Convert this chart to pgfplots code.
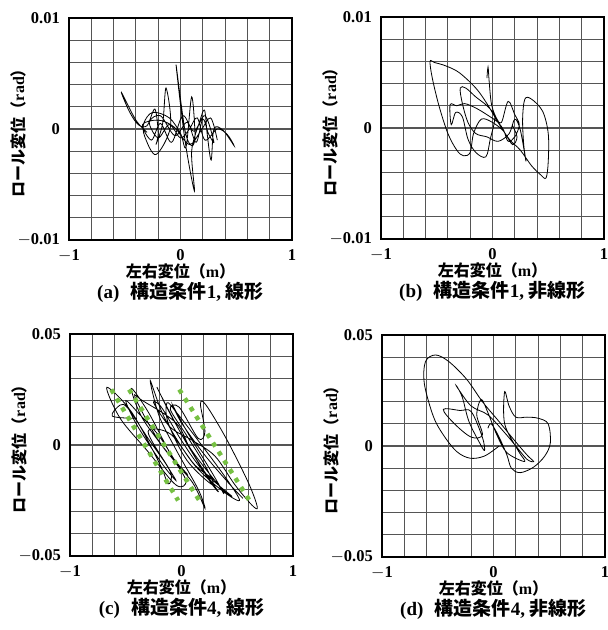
\documentclass[border=0pt]{standalone}
\usepackage{fontspec}
\usepackage{pgfplots}
\pgfplotsset{compat=1.18}
\newfontfamily\jp{Noto Sans CJK JP}
\newfontfamily\numf{Liberation Serif}
\definecolor{gdot}{RGB}{118,192,67}
\definecolor{gridc}{RGB}{85,85,85}
\newcommand{\labsize}{\fontsize{16bp}{18bp}\selectfont}
\newcommand{\capsize}{\fontsize{19bp}{22bp}\selectfont}
\newcommand{\mn}{\(-\)}
\pgfplotsset{
  myax/.style={
    scale only axis, width=223bp, height=222bp, anchor=south west,
    xmin=-1, xmax=1,
    xtick={-1,0,1}, xticklabels={\mn1,0,1},
    minor xtick={-0.8,-0.6,-0.4,-0.2,0.2,0.4,0.6,0.8},
    grid=both,
    major grid style={gridc, line width=1.1bp},
    minor grid style={gridc, line width=1.1bp},
    major tick length=0pt, minor tick length=0pt,
    axis line style={black, line width=1.4bp},
    tick label style={font=\numf\bfseries\fontsize{16.5bp}{16.5bp}\selectfont, inner sep=0pt},
    xticklabel style={yshift=-9bp},
    yticklabel style={xshift=-9bp},
    scaled ticks=false,
    xlabel={{\jp\bfseries 左右変位（}{\numf\bfseries m}{\jp\bfseries ）}},
    ylabel={{\jp\bfseries ロール変位（}{\numf\bfseries rad}{\jp\bfseries ）}},
    xlabel style={at={(axis description cs:0.5,-0.1396)}, anchor=center, inner sep=0pt, font=\labsize},
    ylabel style={at={(axis description cs:-0.229,0.5)}, anchor=center, inner sep=0pt, font=\labsize},
    title style={at={(axis description cs:0.5,-0.2613)}, anchor=center, inner sep=0pt, font=\capsize},
  },
  ysmall/.style={ymin=-0.01, ymax=0.01, ytick={-0.01,0,0.01}, yticklabels={\mn0.01,0,0.01},
    minor ytick={-0.008,-0.006,-0.004,-0.002,0.002,0.004,0.006,0.008}},
  ybig/.style={ymin=-0.05, ymax=0.05, ytick={-0.05,0,0.05}, yticklabels={\mn0.05,0,0.05},
    minor ytick={-0.04,-0.03,-0.02,-0.01,0.01,0.02,0.03,0.04}},
  trace/.style={black, line width=0.8bp, smooth, tension=0.55, mark=none},
  gline/.style={gdot, line width=4.5bp, dash pattern=on 4.5bp off 6bp, mark=none},
}
\begin{document}
\begin{tikzpicture}
\useasboundingbox (0,0) rectangle (608bp,-630bp);
% (a)
\begin{axis}[myax, ysmall, at={(69bp,-240bp)},
  title={{\numf\bfseries (a)}\hspace{0.6em}{\jp\bfseries 構造条件}{\numf\bfseries 1, }{\jp\bfseries 線形}}]
\addplot[trace] coordinates {
(-0.30,-0.0003) (-0.40,0.0008) (-0.53,0.0033) (-0.46,0.0016) (-0.38,0.0004)
(-0.30,0.0003) (-0.23,0.0018) (-0.20,-0.0004) (-0.22,-0.0014) (-0.16,0.0005)
(-0.13,0.0037) (-0.09,0.0002) (-0.22,-0.0023) (-0.32,-0.0007) (-0.33,0.0005)
(-0.25,0.0015) (-0.10,0.0010) (0.00,-0.0004) (0.05,-0.0016) (0.10,0.0029)
(0.13,-0.0006) (0.10,-0.0015) (0.04,-0.0001) (-0.04,0.0058) (0.04,-0.0010)
(0.125,-0.0056) (0.10,-0.0020) (0.17,0.0006) (0.215,0.0017) (0.24,-0.0005)
(0.275,-0.0028) (0.30,0.0000) (0.38,-0.0001) (0.48,-0.0015) (0.42,-0.0005)
(0.33,0.0000) (0.22,-0.0010) (0.15,0.0010) (0.08,0.0000) (0.00,-0.0008)
(-0.10,0.0004) (-0.20,-0.0008) (-0.28,0.0006) (-0.18,0.0012) (-0.05,-0.0006)
(0.06,0.0006) (0.14,-0.0012) (0.20,0.0009) (0.25,-0.0004) (0.30,-0.0012)
(0.22,0.0012) (0.12,-0.0002) (0.02,0.0012) (-0.08,-0.0012) (-0.18,0.0005)
(-0.26,-0.0010) (-0.34,0.0004) (-0.20,0.0008) (-0.06,0.0002) (0.08,-0.0014)
(0.18,-0.0002) (0.27,0.0010) (0.33,-0.0010)
};
\end{axis}
% (b)
\begin{axis}[myax, ysmall, at={(381bp,-239bp)},
  title={{\numf\bfseries (b)}\hspace{0.6em}{\jp\bfseries 構造条件}{\numf\bfseries 1, }{\jp\bfseries 非線形}}]
\addplot[trace] coordinates {
(-0.05,0.0045) (-0.04,0.0055) (-0.03,0.0042) (-0.01,0.0022) (0.03,0.0010)
(0.08,0.0005) (0.14,0.0024) (0.20,0.0012) (0.24,0.0003) (0.20,-0.0008)
(0.14,-0.0012) (0.10,-0.0002) (0.05,0.0005) (-0.05,0.0012) (-0.15,0.0018)
(-0.25,0.0022) (-0.32,0.0020) (-0.38,0.0021) (-0.37,0.0003) (-0.33,0.0014)
(-0.27,0.0010) (-0.22,-0.0010) (-0.15,-0.0022) (-0.06,-0.0026) (-0.02,-0.0010)
(0.02,0.0010) (-0.05,0.0020) (-0.15,0.0028) (-0.24,0.0036) (-0.29,0.0036)
(-0.27,0.0022) (-0.22,0.0005) (-0.15,-0.0005) (-0.05,-0.0008) (0.05,-0.0012)
(0.15,-0.0005) (0.20,0.0008) (0.25,-0.0002) (0.30,-0.0030) (0.28,-0.0015)
(0.27,0.0008) (0.29,0.0026) (0.35,0.0026) (0.45,0.0015) (0.50,-0.0005)
(0.50,-0.0030) (0.48,-0.0045) (0.43,-0.0042) (0.35,-0.0034) (0.25,-0.0020)
(0.15,-0.0010) (0.05,0.0005) (-0.05,0.0022) (-0.15,0.0036) (-0.30,0.0050)
(-0.42,0.0056) (-0.52,0.0059) (-0.56,0.0060) (-0.54,0.0045) (-0.48,0.0020)
(-0.40,-0.0005) (-0.32,-0.0020) (-0.26,-0.0025) (-0.20,-0.0022) (-0.17,-0.0005)
(-0.10,0.0008) (0.00,0.0005) (0.10,-0.0003) (0.18,-0.0015) (0.22,-0.0008)
(0.18,0.0002)
};
\end{axis}
% (c)
\begin{axis}[myax, ybig, at={(70bp,-556bp)},
  title={{\numf\bfseries (c)}\hspace{0.6em}{\jp\bfseries 構造条件}{\numf\bfseries 4, }{\jp\bfseries 線形}}]
\addplot[trace] coordinates {
(-0.40,0.012) (-0.62,0.013) (-0.55,0.018) (-0.48,0.0165) (-0.30,0.003)
(-0.10,-0.012) (-0.12,-0.0175) (-0.20,-0.008) (-0.45,0.015) (-0.67,0.026)
(-0.55,0.012) (-0.30,-0.003) (-0.05,-0.018) (0.04,-0.016) (-0.10,-0.004)
(-0.30,0.015) (-0.45,0.0255) (-0.35,0.012) (-0.10,-0.005) (0.10,-0.017)
(0.21,-0.0285) (0.15,-0.020) (-0.05,-0.002) (-0.20,0.013) (-0.28,0.029)
(-0.15,0.012) (0.10,-0.008) (0.35,-0.020) (0.52,-0.025) (0.40,-0.015)
(0.15,0.002) (-0.05,0.015) (-0.13,0.019) (-0.12,0.010) (0.05,-0.007)
(0.28,-0.018) (0.22,-0.010) (0.05,0.004) (-0.10,0.016) (-0.02,0.017)
(0.15,0.003) (0.21,0.006) (0.17,0.0185) (0.22,0.018) (0.40,0.003)
(0.60,-0.017) (0.68,-0.028) (0.63,-0.027) (0.48,-0.018) (0.30,-0.005)
(0.10,0.002) (-0.10,0.008) (-0.25,0.019) (-0.18,0.017) (0.00,0.002)
(0.20,-0.012) (0.45,-0.023) (0.35,-0.019) (0.10,-0.003) (-0.08,0.012)
(-0.22,0.026) (-0.16,0.020) (0.02,0.003) (0.18,-0.010) (0.33,-0.021)
(0.25,-0.016) (0.08,-0.002) (-0.05,0.010) (-0.35,0.020) (-0.42,0.022)
(-0.30,0.010) (-0.15,-0.002) (0.05,-0.013) (-0.02,-0.010) (-0.20,0.004)
(-0.38,0.014) (-0.50,0.020) (-0.40,0.009) (-0.18,-0.008) (-0.05,-0.016)
(-0.12,-0.010) (-0.30,0.006) (-0.10,0.005) (0.12,-0.009) (0.30,-0.016)
(0.38,-0.022) (0.28,-0.013) (0.05,0.006) (-0.08,0.018) (0.00,0.010)
(0.20,-0.004) (0.42,-0.017) (0.55,-0.024)
};
\addplot[gline] coordinates {(-0.63,0.025) (-0.03,-0.025)};
\addplot[gline] coordinates {(-0.47,0.025) (0.16,-0.025)};
\addplot[gline] coordinates {(-0.02,0.025) (0.61,-0.025)};
\end{axis}
% (d)
\begin{axis}[myax, ybig, at={(382bp,-557bp)},
  title={{\numf\bfseries (d)}\hspace{0.6em}{\jp\bfseries 構造条件}{\numf\bfseries 4, }{\jp\bfseries 非線形}}]
\addplot[trace] coordinates {
(0.05,0.000) (-0.08,-0.0045) (-0.21,-0.0055) (-0.33,-0.0025) (-0.45,0.005)
(-0.54,0.0134) (-0.62,0.028) (-0.61,0.038) (-0.52,0.041) (-0.40,0.038)
(-0.24,0.030) (-0.10,0.020) (0.05,0.011) (0.18,0.003) (0.30,-0.004)
(0.36,-0.007) (0.30,-0.006) (0.20,0.000) (0.10,0.006) (-0.05,0.014)
(-0.20,0.018) (-0.32,0.026) (-0.33,0.027) (-0.28,0.022) (-0.22,0.011)
(-0.12,0.001) (-0.08,-0.002) (-0.10,0.004) (-0.20,0.0155) (-0.30,0.016)
(-0.45,0.0165) (-0.35,0.010) (-0.20,0.004) (-0.10,0.005) (-0.15,0.014)
(-0.11,0.021) (-0.05,0.015) (0.03,0.005) (0.12,-0.003) (0.28,-0.007)
(0.22,-0.002) (0.10,0.010) (0.10,0.0245) (0.14,0.018) (0.20,0.013)
(0.30,0.013) (0.40,0.0125) (0.49,0.010) (0.51,0.0015) (0.46,-0.0045)
(0.36,-0.0095) (0.24,-0.012) (0.16,-0.010) (0.12,-0.004) (0.05,0.004)
(-0.02,0.010) (-0.05,0.008)
};
\end{axis}
\end{tikzpicture}
\end{document}
